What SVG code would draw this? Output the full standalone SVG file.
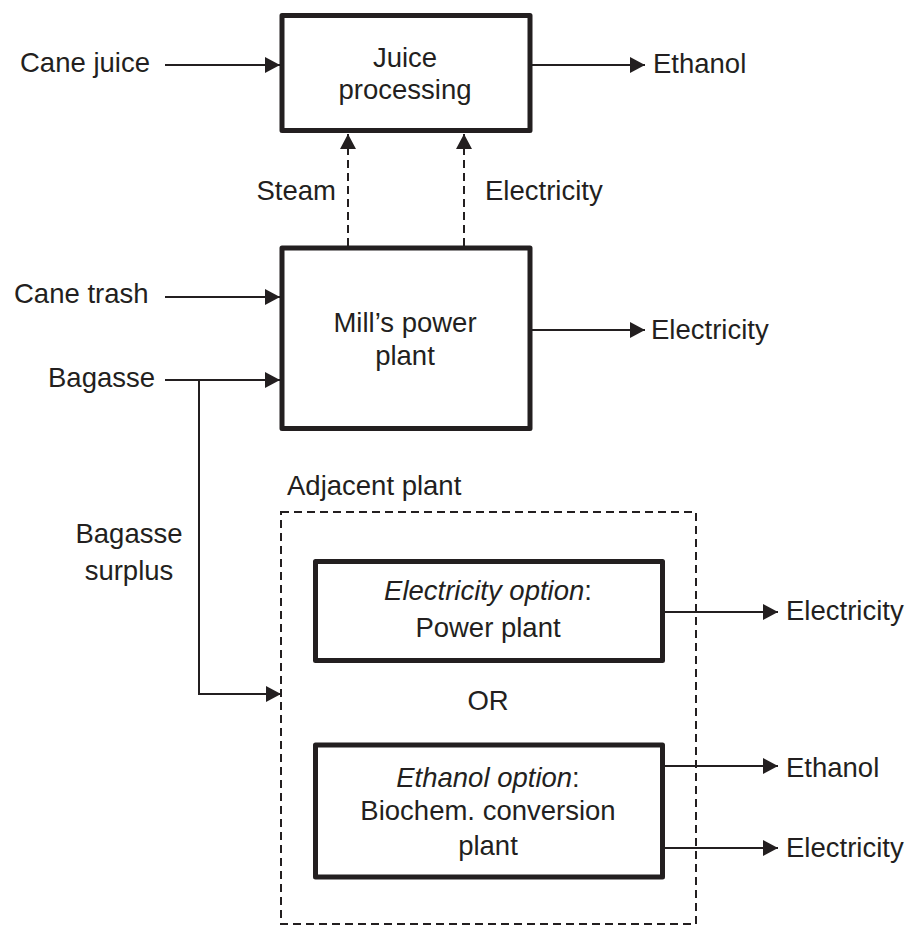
<svg xmlns="http://www.w3.org/2000/svg" width="911" height="926" viewBox="0 0 911 926">
<defs>
<marker id="ah" markerWidth="16" markerHeight="16" viewBox="0 0 16 16" refX="15" refY="8" orient="auto" markerUnits="userSpaceOnUse">
<path d="M0,0 L15,8 L0,16 Z" fill="#231f20"/>
</marker>
<style>
text{font-family:"Liberation Sans",Arial,sans-serif;font-size:27.5px;fill:#231f20}
.c{text-anchor:middle}
.box{fill:#fff;stroke:#231f20;stroke-width:5;stroke-linejoin:round}
.ln{fill:none;stroke:#231f20;stroke-width:2}
.dash{fill:none;stroke:#231f20;stroke-width:2;stroke-dasharray:8,5}
.i{font-style:italic}
</style>
</defs>
<rect width="911" height="926" fill="#fff"/>
<g id="adjacent-plant">
<rect x="281" y="512" width="415" height="412" class="dash"/>
<text x="287" y="495">Adjacent plant</text>
</g>
<g id="juice-processing">
<rect x="282" y="15.5" width="248" height="115" class="box"/>
<text class="c" x="405" y="67">Juice</text>
<text class="c" x="405" y="99">processing</text>
</g>
<g id="mill-power-plant">
<rect x="282" y="248" width="248" height="180.5" class="box"/>
<text class="c" x="405" y="332">Mill’s power</text>
<text class="c" x="405" y="365">plant</text>
</g>
<g id="electricity-option">
<rect x="315.5" y="561.5" width="347" height="99" class="box"/>
<text class="c" x="488" y="600"><tspan class="i">Electricity option</tspan>:</text>
<text class="c" x="488" y="637">Power plant</text>
</g>
<g id="or-label"><text class="c" x="488" y="710">OR</text></g>
<g id="ethanol-option">
<rect x="315.5" y="745" width="347" height="132" class="box"/>
<text class="c" x="488" y="787"><tspan class="i">Ethanol option</tspan>:</text>
<text class="c" x="488" y="820">Biochem. conversion</text>
<text class="c" x="488" y="855">plant</text>
</g>
<g id="labels">
<text x="20" y="72">Cane juice</text>
<text x="653" y="73">Ethanol</text>
<text x="336" y="200" text-anchor="end">Steam</text>
<text x="485" y="200">Electricity</text>
<text x="14" y="303">Cane trash</text>
<text x="48" y="387">Bagasse</text>
<text x="651" y="339">Electricity</text>
<text class="c" x="129" y="543">Bagasse</text>
<text class="c" x="129" y="580">surplus</text>
<text x="786" y="620">Electricity</text>
<text x="786" y="777">Ethanol</text>
<text x="786" y="857">Electricity</text>
</g>
<g id="connectors">
<line x1="165" y1="65" x2="280" y2="65" class="ln" marker-end="url(#ah)"/>
<line x1="532" y1="65" x2="645" y2="65" class="ln" marker-end="url(#ah)"/>
<line x1="348" y1="246" x2="348" y2="134" class="dash" marker-end="url(#ah)"/>
<line x1="464" y1="246" x2="464" y2="134" class="dash" marker-end="url(#ah)"/>
<line x1="165" y1="297" x2="280" y2="297" class="ln" marker-end="url(#ah)"/>
<line x1="165" y1="380" x2="280" y2="380" class="ln" marker-end="url(#ah)"/>
<line x1="532" y1="330" x2="645" y2="330" class="ln" marker-end="url(#ah)"/>
<polyline points="199,380 199,694 281,694" class="ln" marker-end="url(#ah)"/>
<line x1="664" y1="612" x2="778" y2="612" class="ln" marker-end="url(#ah)"/>
<line x1="664" y1="766" x2="778" y2="766" class="ln" marker-end="url(#ah)"/>
<line x1="664" y1="848" x2="778" y2="848" class="ln" marker-end="url(#ah)"/>
</g>
</svg>
